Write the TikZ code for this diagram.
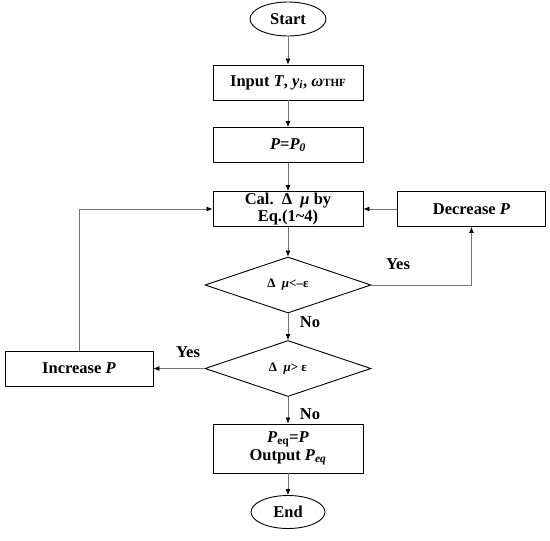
\documentclass[tikz,border=0pt]{standalone}
\usepackage{fontspec}
\setmainfont{Liberation Serif}
\usetikzlibrary{shapes.geometric,arrows.meta}
\begin{document}
\begin{tikzpicture}[x=1pt,y=-1pt,
  font=\fontsize{16.5}{18}\selectfont\bfseries,
  procbox/.style={draw=black,line width=0.9pt,minimum width=150pt,minimum height=35pt,inner sep=1pt,align=center},
  term/.style={draw=black,line width=0.9pt,ellipse,minimum width=76pt,minimum height=34pt,inner sep=0pt},
  decide/.style={draw=black,line width=0.9pt,diamond,aspect=2.95,minimum width=166pt,minimum height=56pt,inner sep=0pt,font=\fontsize{13}{15}\selectfont\bfseries},
  conn/.style={draw=black!55,line width=0.7pt,-{Latex[length=6pt,width=5pt,color=black]}},
  lbl/.style={font=\fontsize{16.5}{18}\selectfont\bfseries}]
\useasboundingbox (0,0) rectangle (550,541);
\node[term] (start) at (288,19) {Start};
\node[procbox] (input) at (288,82.5) {Input \textit{T}, \textit{y\textsubscript{i}}, \textit{ω}{\fontsize{11}{12}\selectfont THF}};
\node[procbox] (p0) at (288,145) {\textit{P}=\textit{P\textsubscript{0}}};
\node[procbox] (cal) at (288,209) {Cal.\ \ Δ\ \ \textit{μ} by\\[-1pt]Eq.(1\textasciitilde4)};
\node[procbox,minimum width=148pt] (dec) at (471.5,209) {Decrease \textit{P}};
\node[decide] (d1) at (288,285) {Δ\ \ \textit{μ}<–ε};
\node[decide] (d2) at (288,368.5) {Δ\ \ \textit{μ}> ε};
\node[procbox,minimum width=148pt] (inc) at (79,368.5) {Increase \textit{P}};
\node[procbox,minimum height=49pt] (out) at (288,448.5) {\textit{P}\textsubscript{eq}=\textit{P}\\Output \textit{P\textsubscript{eq}}};
\node[term,minimum height=33pt,minimum width=74pt] (end) at (288,512) {End};
\draw[conn] (start) -- (input);
\draw[conn] (input) -- (p0);
\draw[conn] (p0) -- (cal);
\draw[conn] (cal) -- (d1);
\draw[conn] (d1) -- (d2);
\draw[conn] (d2) -- (out);
\draw[conn] (out) -- (end);
\draw[conn] (dec) -- (cal);
\draw[conn] (d1.east) -| (dec.south);
\draw[conn] (d2.west) -- (inc.east);
\draw[conn] (inc.north) |- (cal.west);
\node[lbl] (yes1) at (398,264) {Yes};
\node[lbl] (no1) at (310,322) {No};
\node[lbl] (yes2) at (188,352) {Yes};
\node[lbl] (no2) at (310,414) {No};
\end{tikzpicture}
\end{document}
